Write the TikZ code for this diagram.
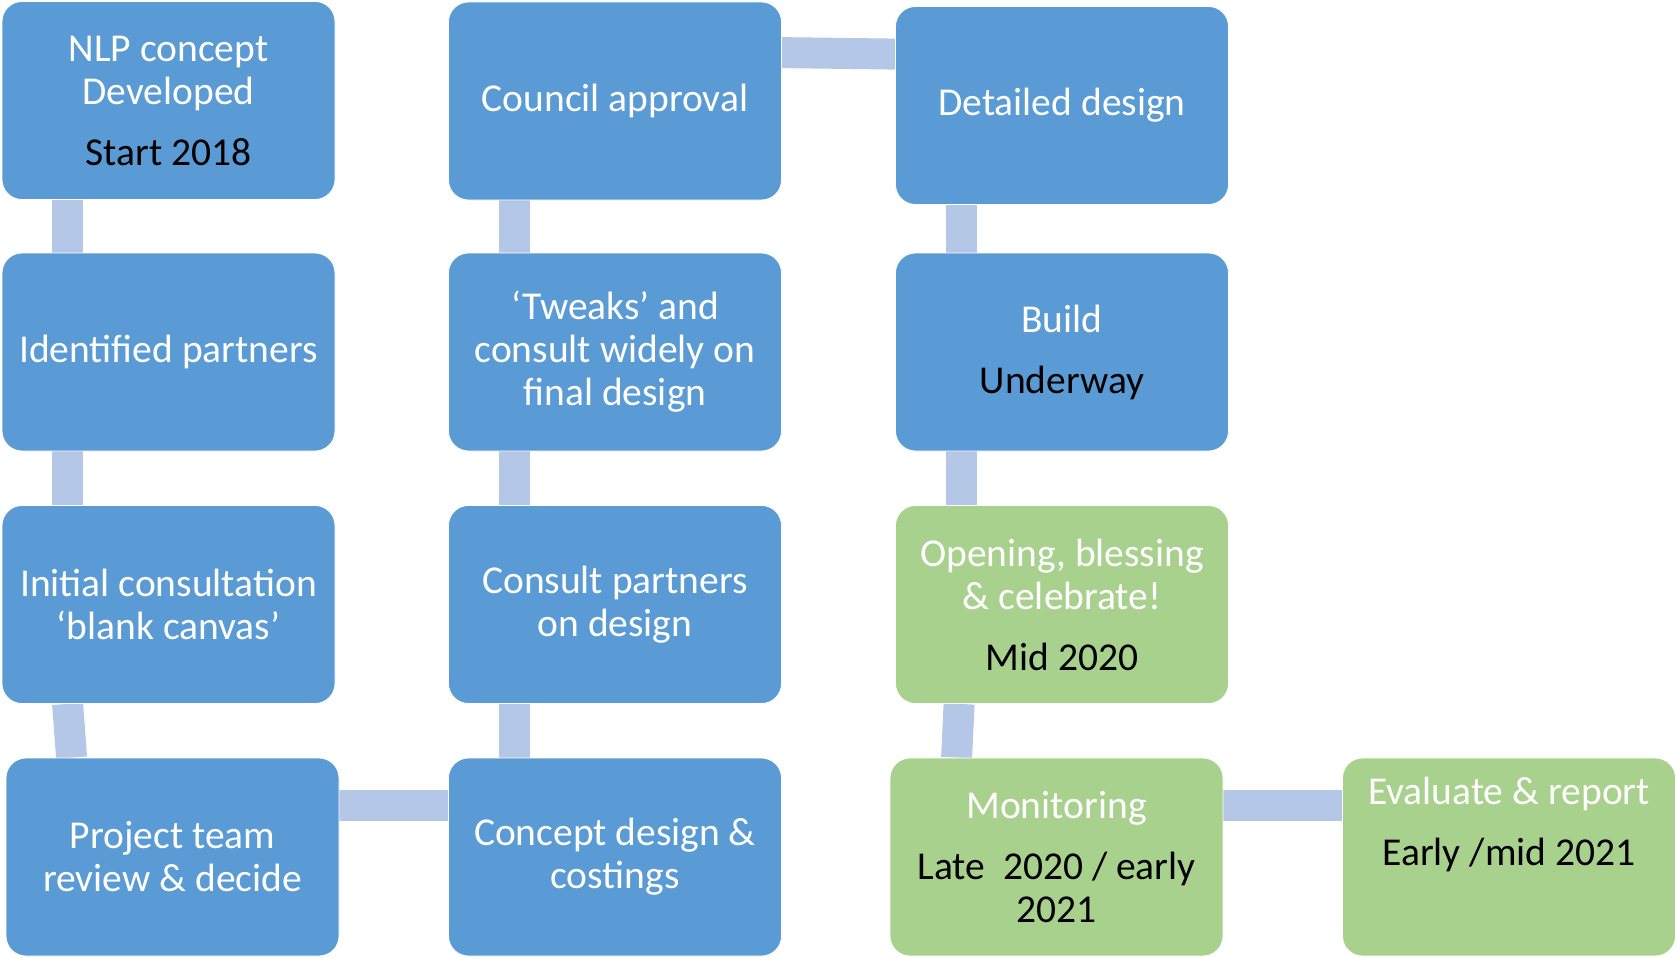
\documentclass[tikz,border=0pt]{standalone}
\usepackage{fontspec}
\setmainfont{Carlito}
\usetikzlibrary{backgrounds}
\definecolor{boxblue}{HTML}{5B9BD5}
\definecolor{boxgreen}{HTML}{A9D18E}
\definecolor{connblue}{HTML}{B4C7E7}
\begin{document}
\begin{tikzpicture}[x=1pt,y=-1pt,
  stage/.style={rounded corners=20pt, minimum width=333pt, minimum height=198pt, inner sep=0pt, align=center, text=white, font=\fontsize{39.5}{43}\selectfont, draw=white, line width=0.8pt},
  bluestage/.style={stage, fill=boxblue},
  greenstage/.style={stage, fill=boxgreen},
  link/.style={draw=connblue, line width=31pt}]
\useasboundingbox (0,0) rectangle (1676,958);

\node[bluestage] (nlp) at (168.5,100.5) {NLP concept\\Developed\\[18pt]\textcolor{black}{Start 2018}};
\node[bluestage] (ident) at (168.5,352) {Identified partners};
\node[bluestage] (initial) at (168.5,604.5) {Initial consultation\\‘blank canvas’};
\node[bluestage] (project) at (172.5,857) {Project team\\review \& decide};
\node[bluestage] (concept) at (615,857) {Concept design \&\\costings};
\node[bluestage] (consult) at (615,604.5) {Consult partners\\on design};
\node[bluestage] (tweaks) at (615,352) {‘Tweaks’ and\\consult widely on\\final design};
\node[bluestage] (council) at (615,101) {Council approval};
\node[bluestage] (detailed) at (1062,105.5) {Detailed design};
\node[bluestage] (build) at (1062,352) {Build\\[18pt]\textcolor{black}{Underway}};
\node[greenstage] (opening) at (1062,604.5) {Opening, blessing\\\& celebrate!\\[18pt]\textcolor{black}{Mid 2020}};
\node[greenstage] (monitor) at (1056.5,857) {Monitoring\\[18pt]\textcolor{black}{Late\ \ 2020 / early}\\\textcolor{black}{2021}};
\node[greenstage, text depth=72pt] (evaluate) at (1509,857) {Evaluate \& report\\[18pt]\textcolor{black}{Early /mid 2021}};

\begin{scope}[on background layer]
\draw[link] ([xshift=66pt]nlp.south west) -- ([xshift=66pt]ident.north west);
\draw[link] ([xshift=66pt]ident.south west) -- ([xshift=66pt]initial.north west);
\draw[link] ([xshift=66pt]initial.south west) -- ([xshift=66pt]project.north west);
\draw[link] ([yshift=-48pt]project.north east) -- ([yshift=-48pt]concept.north west);
\draw[link] ([xshift=66pt]concept.north west) -- ([xshift=66pt]consult.south west);
\draw[link] ([xshift=66pt]consult.north west) -- ([xshift=66pt]tweaks.south west);
\draw[link] ([xshift=66pt]tweaks.north west) -- ([xshift=66pt]council.south west);
\draw[link] ([yshift=-51pt]council.north east) -- ([yshift=-48pt]detailed.north west);
\draw[link] ([xshift=66pt]detailed.south west) -- ([xshift=66pt]build.north west);
\draw[link] ([xshift=66pt]build.south west) -- ([xshift=66pt]opening.north west);
\draw[link] ([xshift=64pt]opening.south west) -- ([xshift=67pt]monitor.north west);
\draw[link] ([yshift=-48pt]monitor.north east) -- ([yshift=-48pt]evaluate.north west);
\end{scope}
\end{tikzpicture}
\end{document}
